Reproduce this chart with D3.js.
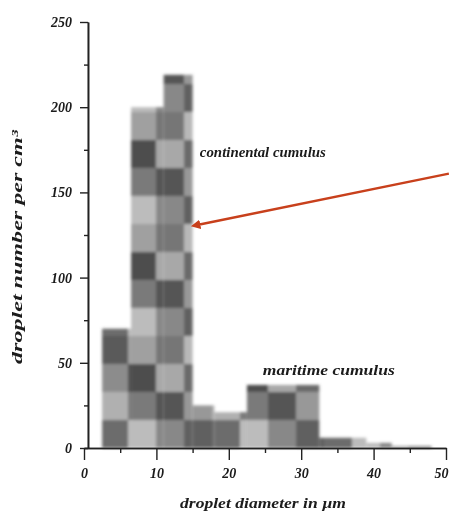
<!DOCTYPE html>
<html>
<head>
<meta charset="utf-8">
<script src="https://cdn.jsdelivr.net/npm/d3@7"></script>
<style>
body { margin: 0; background: #fff; }
.lbl { font-family: "Liberation Serif", "DejaVu Serif", serif; font-style: italic; fill: #1a1a1a; }
</style>
</head>
<body>
<div id="chart"></div>
<script>
// histogram bins (droplet diameter, um) and counts per cm3
var binEdges = [2.5, 6.5, 11, 15, 18, 22.5, 32.5, 39, 42.5, 48];
var binCounts = [70, 200, 219, 25, 21, 37, 6, 3, 1];
var xTicks = [0, 10, 20, 30, 40, 50];
var xMinor = [5, 15, 25, 35, 45];
var yTicks = [0, 50, 100, 150, 200, 250];
var yMinor = [25, 75, 125, 175, 225];
var labels = [
	{ text: "continental cumulus", x: 16.0, y: 171, len: 126 },
	{ text: "maritime cumulus", x: 24.7, y: 43, len: 132 }
];
var arrowLine = { x1: 50.4, y1: 161, x2: 15.8, y2: 131 };

// halftone-ish cell shades for the scanned look
var shades = ["#5a5a5a", "#a0a0a0", "#767676", "#b8b8b8",
			"#8c8c8c", "#4e4e4e", "#a8a8a8", "#6a6a6a",
			"#b0b0b0", "#7a7a7a", "#555555", "#989898",
			"#6c6c6c", "#bcbcbc", "#888888", "#606060"];

var width = 449, height = 517;
var svg = d3.select("#chart").append("svg")
	.attr("width", width)
	.attr("height", height);

var x = d3.scaleLinear().domain([0, 50]).range([84, 446]);
var y = d3.scaleLinear().domain([0, 250]).range([448, 22]);

var defs = svg.append("defs");
var cell = 28;
var pat = defs.append("pattern")
	.attr("id", "checker")
	.attr("patternUnits", "userSpaceOnUse")
	.attr("x", 100).attr("y", y(0))
	.attr("width", cell * 4).attr("height", cell * 4);
shades.forEach(function(s, i){
	pat.append("rect")
		.attr("x", (i % 4) * cell).attr("y", Math.floor(i / 4) * cell)
		.attr("width", cell).attr("height", cell)
		.attr("fill", s);
});
defs.append("filter").attr("id", "soft")
	.attr("x", "-5%").attr("y", "-5%").attr("width", "110%").attr("height", "110%")
	.append("feGaussianBlur").attr("stdDeviation", 1.5);
defs.append("filter").attr("id", "softText")
	.append("feGaussianBlur").attr("stdDeviation", 0.35);
defs.append("marker")
	.attr("id", "head")
	.attr("viewBox", "0 0 10 10")
	.attr("refX", 2).attr("refY", 5)
	.attr("markerWidth", 4).attr("markerHeight", 4)
	.attr("orient", "auto-start-reverse")
	.append("path").attr("d", "M0,0 L10,5 L0,10 z").attr("fill", "#c8401c");

// bars
var bins = binCounts.map(function(c, i){ return { x0: binEdges[i], x1: binEdges[i + 1], n: c }; });
svg.append("g").attr("filter", "url(#soft)")
	.selectAll("rect").data(bins).enter().append("rect")
	.attr("x", function(d){ return x(d.x0); })
	.attr("y", function(d){ return y(d.n); })
	.attr("width", function(d){ return x(d.x1) - x(d.x0); })
	.attr("height", function(d){ return y(0) - y(d.n); })
	.attr("fill", "url(#checker)");

// axes
var axisG = svg.append("g").attr("filter", "url(#softText)");
axisG.append("g").attr("transform", "translate(" + x(0.55) + ",0)")
	.call(d3.axisLeft(y).tickValues(yTicks).tickSize(8).tickSizeOuter(0).tickPadding(8));
axisG.append("g").attr("transform", "translate(" + x(0.55) + ",0)")
	.call(d3.axisLeft(y).tickValues(yMinor).tickSize(4).tickSizeOuter(0).tickFormat(""));
var xAxis = axisG.append("g").attr("transform", "translate(0," + y(0) + ")")
	.call(d3.axisBottom(x).tickValues(xTicks).tickSize(12).tickSizeOuter(0).tickPadding(8));
axisG.append("g").attr("transform", "translate(0," + y(0) + ")")
	.call(d3.axisBottom(x).tickValues(xMinor).tickSize(5).tickSizeOuter(0).tickFormat(""));
axisG.selectAll(".domain").attr("stroke", "#222").attr("stroke-width", 1.6);
axisG.selectAll(".tick line").attr("stroke", "#222").attr("stroke-width", 1.4);
axisG.selectAll(".tick text")
	.attr("class", "lbl")
	.style("font-size", "14px")
	.style("font-family", "'Liberation Serif', serif")
	.style("font-style", "italic")
	.style("font-weight", "bold");
// last x label sits at the window edge: keep it inside
xAxis.selectAll(".tick text").filter(function(d){ return d === 50; })
	.attr("text-anchor", "end").attr("x", 2);

// titles
axisG.append("text").attr("class", "lbl")
	.attr("x", 180).attr("y", 508)
	.attr("textLength", 166).attr("lengthAdjust", "spacingAndGlyphs")
	.style("font-size", "15px").style("font-weight", "bold")
	.text("droplet diameter in µm");
axisG.append("text").attr("class", "lbl")
	.attr("transform", "translate(22,364) rotate(-90)")
	.attr("textLength", 234).attr("lengthAdjust", "spacingAndGlyphs")
	.style("font-size", "15px").style("font-weight", "bold")
	.text("droplet number per cm³");

axisG.selectAll(".note").data(labels).enter().append("text")
	.attr("class", "lbl note")
	.attr("x", function(d){ return x(d.x); })
	.attr("y", function(d){ return y(d.y); })
	.attr("textLength", function(d){ return d.len; })
	.attr("lengthAdjust", "spacingAndGlyphs")
	.style("font-size", "15px").style("font-weight", "bold")
	.text(function(d){ return d.text; });

// red arrow
svg.append("line")
	.attr("x1", x(arrowLine.x1)).attr("y1", y(arrowLine.y1))
	.attr("x2", x(arrowLine.x2)).attr("y2", y(arrowLine.y2))
	.attr("stroke", "#c8401c")
	.attr("stroke-width", 2.4)
	.attr("marker-end", "url(#head)");
</script>
</body>
</html>
